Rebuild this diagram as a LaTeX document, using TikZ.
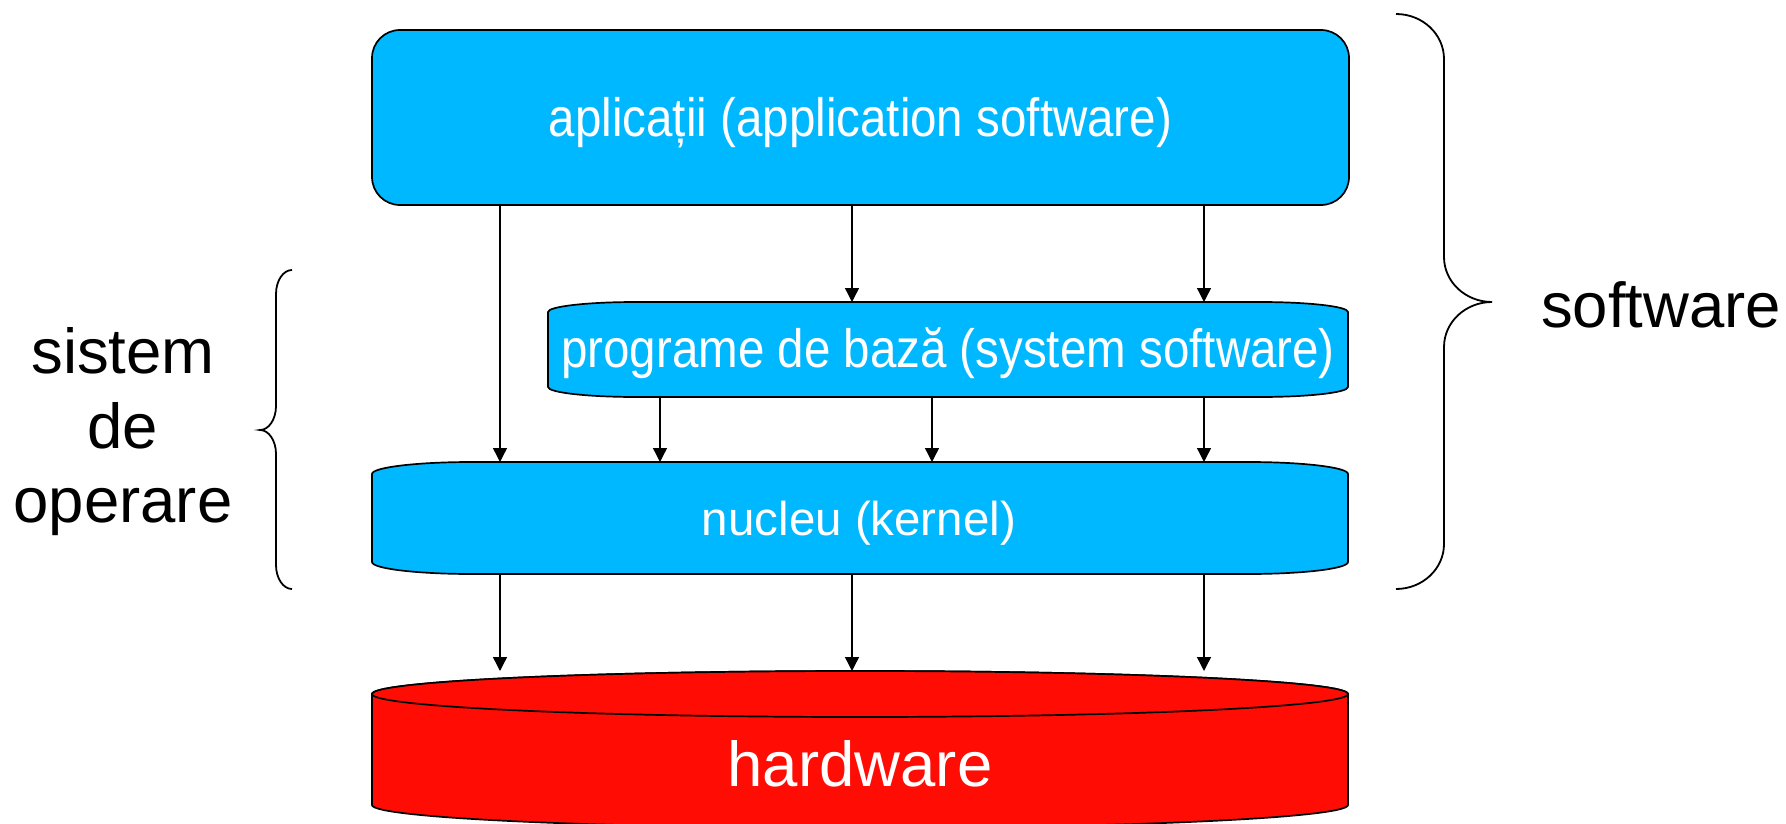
\documentclass[tikz,border=0pt]{standalone}
\usepackage{fontspec}
\setmainfont{Liberation Sans}
\usetikzlibrary{arrows.meta}
\definecolor{boxblue}{RGB}{0,184,255}
\definecolor{hwred}{RGB}{255,12,5}
\newcommand{\narrowtext}[1]{\scalebox{0.88}[1]{#1}}
\begin{document}
\begin{tikzpicture}[x=1pt,y=-1pt,
  outline/.style={draw=black, line width=1.7pt},
  conn/.style={draw=black, line width=1.4pt, -{Triangle[length=14pt,width=14pt]}},
  boxtext/.style={text=white, font=\fontsize{47.5}{57}\selectfont, anchor=base, inner sep=0pt},
  narrowbox/.style={text=white, font=\fontsize{54}{64}\selectfont, anchor=base, inner sep=0pt},
  bigtext/.style={text=black, font=\fontsize{63.5}{75}\selectfont, anchor=base, inner sep=0pt},
  bracestyle/.style={draw=black, line width=1.8pt},
  frame/.style={inner sep=0pt, outer sep=0pt}]
\useasboundingbox (0,0) rectangle (1786,824);
\clip (0,0) rectangle (1786,824);

% application box
\node[frame, outline, fill=boxblue, rounded corners=28pt, minimum width=977pt, minimum height=175pt] (app) at (860.5,117.5) {};

% system software box
\node[frame, minimum width=800pt, minimum height=95pt] (sys) at (948,349.5) {};
\path[outline, fill=boxblue] (548,312)
  arc[start angle=180,end angle=90,x radius=88pt,y radius=10pt] -- (1260,302)
  arc[start angle=90,end angle=0,x radius=88pt,y radius=10pt] -- (1348,387)
  arc[start angle=0,end angle=-90,x radius=88pt,y radius=10pt] -- (636,397)
  arc[start angle=270,end angle=180,x radius=88pt,y radius=10pt] -- cycle;

% kernel box
\node[frame, minimum width=976pt, minimum height=112pt] (ker) at (860,518) {};
\path[outline, fill=boxblue] (372,474)
  arc[start angle=180,end angle=90,x radius=100pt,y radius=12pt] -- (1248,462)
  arc[start angle=90,end angle=0,x radius=100pt,y radius=12pt] -- (1348,562)
  arc[start angle=0,end angle=-90,x radius=100pt,y radius=12pt] -- (472,574)
  arc[start angle=270,end angle=180,x radius=100pt,y radius=12pt] -- cycle;

% hardware cylinder
\node[frame, minimum width=976pt, minimum height=157pt] (hw) at (860,749.5) {};
\path[outline, fill=hwred] (372,694) -- (372,805)
  arc[start angle=180,end angle=360,x radius=488pt,y radius=23pt] -- (1348,694)
  arc[start angle=0,end angle=180,x radius=488pt,y radius=23pt] -- cycle;
\path[outline, fill=hwred] (860,694) ellipse[x radius=488pt, y radius=23pt];

% texts
\node[narrowbox] (tapp) at (860.5,137) {\narrowtext{aplicații (application software)}};
\node[narrowbox] (tsys) at (948,367) {\narrowtext{programe de bază (system software)}};
\node[boxtext] (tker) at (859,535) {nucleu (kernel)};
\node[boxtext, font=\fontsize{63.5}{75}\selectfont] (thw) at (860,786) {hardware};
\node[bigtext] (t1) at (123,373) {sistem};
\node[bigtext] (t2) at (123,448) {de};
\node[bigtext] (t3) at (123,522) {operare};
\node[bigtext, anchor=base west] (tsw) at (1541,327) {software};

% connectors
\coordinate (xa) at (500,0);
\coordinate (xb) at (852,0);
\coordinate (xc) at (1204,0);
\coordinate (xd) at (660,0);
\coordinate (xe) at (932,0);
\draw[conn] (app.south -| xa) -- (ker.north -| xa);
\draw[conn] (app.south -| xb) -- (sys.north -| xb);
\draw[conn] (app.south -| xc) -- (sys.north -| xc);
\draw[conn] (sys.south -| xd) -- (ker.north -| xd);
\draw[conn] (sys.south -| xe) -- (ker.north -| xe);
\draw[conn] (sys.south -| xc) -- (ker.north -| xc);
\draw[conn] (ker.south -| xa) -- (hw.north -| xa);
\draw[conn] (ker.south -| xb) -- (hw.north -| xb);
\draw[conn] (ker.south -| xc) -- (hw.north -| xc);

% left brace
\path[bracestyle] (292,270)
  arc[start angle=90,end angle=180,x radius=16pt,y radius=24pt] -- (276,406)
  arc[start angle=0,end angle=-90,x radius=16pt,y radius=24pt]
  arc[start angle=90,end angle=0,x radius=16pt,y radius=24pt] -- (276,565)
  arc[start angle=180,end angle=270,x radius=16pt,y radius=24pt];

% right brace
\path[bracestyle] (1396,14)
  arc[start angle=90,end angle=0,x radius=48pt,y radius=45pt] -- (1444,257)
  arc[start angle=180,end angle=270,x radius=48pt,y radius=45pt]
  arc[start angle=90,end angle=180,x radius=48pt,y radius=45pt] -- (1444,544)
  arc[start angle=0,end angle=-90,x radius=48pt,y radius=45pt];
\end{tikzpicture}
\end{document}
